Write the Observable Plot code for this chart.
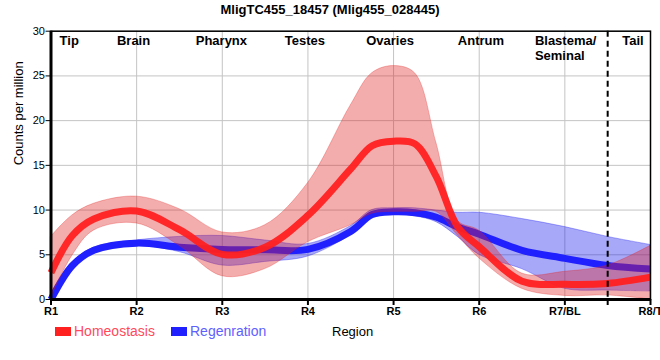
<!DOCTYPE html>
<html>
<head>
<meta charset="utf-8">
<script src="https://cdn.jsdelivr.net/npm/d3@7"></script>
<script src="https://cdn.jsdelivr.net/npm/@observablehq/plot@0.6"></script>
<style>
  html, body { margin: 0; padding: 0; background: #fff; }
  #wrap { position: relative; width: 660px; height: 360px; font-family: "Liberation Sans", Arial, sans-serif; }
  #title { position: absolute; left: 0; width: 660px; top: 2px; text-align: center; font-weight: bold; font-size: 13px; }
  #legend { position: absolute; top: 322px; left: 55px; font-size: 14px; height: 18px; }
  .item { position: absolute; top: 0; white-space: nowrap; line-height: 18px; }
  .sw { display: inline-block; width: 16px; height: 9px; margin-right: 3px; }
  #xlabel { position: absolute; top: 323px; left: 332px; font-size: 13px; line-height: 18px; }
  #chart { position: absolute; left: 0; top: 0; }
</style>
</head>
<body>
<div id="wrap">
  <div id="chart"></div>
  <div id="title"></div>
  <div id="legend"></div>
  <div id="xlabel"></div>
</div>
<script>
// ---- data ----
const titleText = "MligTC455_18457 (Mlig455_028445)";
const regionIdx = [1, 2, 3, 4, 5, 6, 7, 8];
const regionLabels = ["R1", "R2", "R3", "R4", "R5", "R6", "R7/BL", "R8/T"];
const tissueNames = ["Tip", "Brain", "Pharynx", "Testes", "Ovaries", "Antrum", "Blastema/\nSeminal", "Tail"];
const tissuePos = [1.1, 1.77, 2.69, 3.73, 4.68, 5.75, 6.65, 7.67];
const tailBoundary = [7.5];
const yTicks = [0, 5, 10, 15, 20, 25, 30];

// values at the regions and at positions between them
const samplePos = [1, 1.25, 1.5, 2, 2.5, 3, 3.5, 4, 4.5, 4.75, 5, 5.25, 5.5, 5.75, 6, 6.5, 7, 7.5, 8];

const homeoMean = [3.0, 7.15, 9.0, 9.9, 7.8, 5.05, 5.85, 9.4, 14.6, 17.2, 17.7, 17.4, 13.7, 8.1, 5.9, 2.05, 1.7, 1.8, 2.5];
const homeoLow  = [0.2, 4.9, 7.7, 8.5, 6.0, 2.6, 3.4, 6.4, 8.3, 9.6, 9.8, 9.8, 9.8, 7.15, 4.6, 1.2, 0.4, 0.45, 0.0];
const homeoHigh = [7.0, 9.4, 10.7, 11.5, 10.1, 7.5, 8.3, 13.0, 21.7, 25.3, 26.1, 25.3, 17.5, 8.8, 7.7, 2.9, 3.1, 3.8, 6.0];

const regenMean = [0.0, 3.8, 5.5, 6.3, 5.85, 5.6, 5.55, 5.6, 7.6, 9.5, 9.8, 9.7, 9.2, 8.1, 7.3, 5.5, 4.6, 3.8, 3.4];
const regenLow  = [0.0, 3.5, 5.2, 6.0, 5.3, 3.8, 4.2, 4.8, 7.2, 9.1, 9.5, 9.3, 8.65, 7.0, 5.0, 3.4, 1.2, 1.0, 0.9];
const regenHigh = [0.5, 4.1, 5.8, 6.6, 7.0, 7.1, 6.6, 6.2, 8.2, 10.0, 10.2, 10.2, 9.95, 9.7, 9.7, 9.0, 8.1, 7.0, 6.1];

const seriesNames = ["Homeostasis", "Regenration"];
const seriesColors = ["#ff2020", "#2020ff"];
const legendTextColors = ["#ff4a5c", "#6060ff"];
const axisTitleX = "Region";
const axisTitleY = "Counts per million";

// ---- build table ----
const rows = samplePos.map((x, i) => ({
  x,
  hm: homeoMean[i], hl: homeoLow[i], hh: homeoHigh[i],
  rm: regenMean[i], rl: regenLow[i], rh: regenHigh[i]
}));
const tissues = tissueNames.map((name, i) => ({ name, x: tissuePos[i] }));
const curve = "catmull-rom";

const chart = Plot.plot({
  width: 660,
  height: 360,
  marginLeft: 50.5,
  marginRight: 10,
  marginTop: 30.7,
  marginBottom: 61,
  style: { fontFamily: "'Liberation Sans', Arial, sans-serif", background: "transparent" },
  x: { domain: [1, 8], label: null },
  y: { domain: [0, 30], label: null },
  marks: [
    Plot.gridX(regionIdx, { stroke: "#c4c4c4", strokeOpacity: 1 }),
    Plot.gridY(yTicks, { stroke: "#c4c4c4", strokeOpacity: 1 }),
    Plot.areaY(rows, { x: "x", y1: "rl", y2: "rh", curve, fill: "#1414f0", fillOpacity: 0.37, stroke: "#1414f0", strokeOpacity: 0.35, strokeWidth: 1 }),
    Plot.line(rows, { x: "x", y: "rm", curve, stroke: seriesColors[1], strokeWidth: 7, strokeLinecap: "butt" }),
    Plot.areaY(rows, { x: "x", y1: "hl", y2: "hh", curve, fill: "#e02020", fillOpacity: 0.37, stroke: "#e02020", strokeOpacity: 0.3, strokeWidth: 1 }),
    Plot.line(rows, { x: "x", y: "hm", curve, stroke: seriesColors[0], strokeWidth: 7, strokeLinecap: "butt", strokeOpacity: 0.95 }),
    Plot.ruleX(tailBoundary, { stroke: "black", strokeWidth: 2, strokeDasharray: "6,4" }),
    Plot.frame({ stroke: "black", strokeWidth: 1.5 }),
    Plot.ruleX([regionIdx[0]], { stroke: "black", strokeWidth: 3 }),
    Plot.ruleY([0], { stroke: "black", strokeWidth: 3 }),
    Plot.text(tissues, { x: "x", text: "name", frameAnchor: "top", dy: 4, lineAnchor: "top", textAnchor: "start", fontWeight: "bold", fontSize: 13, lineHeight: 1.1, fill: "black" }),
    Plot.axisX([...regionIdx, ...tailBoundary], {
      tickFormat: d => Number.isInteger(d) ? regionLabels[d - 1] : "",
      tickSize: 6, strokeWidth: 2, tickPadding: 2, fontWeight: "bold", fontSize: 11, fill: "black", label: null
    }),
    Plot.axisY(yTicks, { tickSize: 5, tickPadding: 1, strokeWidth: 1, fontSize: 11, fill: "black", label: null }),
    Plot.text([axisTitleY], { frameAnchor: "left", dx: -32, rotate: -90, fontSize: 13, fill: "black", text: d => d })
  ]
});
document.getElementById("chart").appendChild(chart);

document.getElementById("title").textContent = titleText;
document.getElementById("xlabel").textContent = axisTitleX;
const legend = document.getElementById("legend");
const offsets = [0, 116];
seriesNames.forEach((name, i) => {
  const item = document.createElement("div");
  item.className = "item";
  item.style.left = offsets[i] + "px";
  item.style.color = legendTextColors[i];
  const sw = document.createElement("span");
  sw.className = "sw";
  sw.style.background = seriesColors[i];
  item.appendChild(sw);
  item.appendChild(document.createTextNode(name));
  legend.appendChild(item);
});
</script>
</body>
</html>
